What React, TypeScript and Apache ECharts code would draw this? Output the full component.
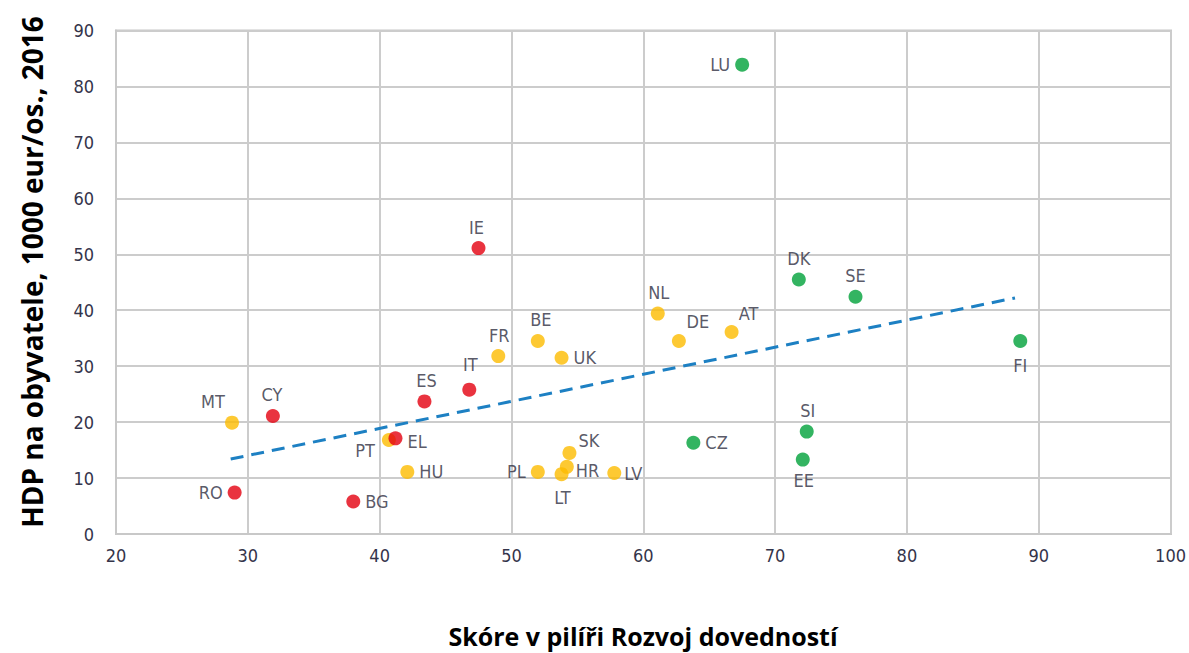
import React, { useEffect, useRef } from "react";
import * as echarts from "echarts";

const countries = ["LU", "IE", "DK", "SE", "NL", "AT", "DE", "FI", "BE", "FR", "UK", "IT", "ES", "CY", "MT", "RO", "BG", "PT", "EL", "SI", "CZ", "SK", "EE", "HR", "HU", "PL", "LT", "LV"];
const skillScore = [67.5, 47.5, 71.8, 76.1, 61.1, 66.7, 62.7, 88.6, 52.0, 49.0, 53.8, 46.8, 43.4, 31.9, 28.8, 29.0, 38.0, 40.7, 41.2, 72.4, 63.8, 54.4, 72.1, 54.2, 42.1, 52.0, 53.8, 57.8];
const gdpPerCapita = [83.9, 51.1, 45.5, 42.4, 39.4, 36.1, 34.5, 34.5, 34.5, 31.8, 31.5, 25.8, 23.7, 21.1, 19.9, 7.4, 5.8, 16.8, 17.1, 18.3, 16.3, 14.5, 13.3, 12.0, 11.1, 11.1, 10.7, 10.9];
// group: 0 = red, 1 = yellow, 2 = green
const group = [2, 0, 2, 2, 1, 1, 1, 2, 1, 1, 1, 0, 0, 0, 1, 0, 0, 1, 0, 2, 2, 1, 2, 1, 1, 1, 1, 1];
const trendX = [28.7, 88.2];
const trendY = [13.4, 42.2];
const xTicks = [20, 100, 10];
const yTicks = [0, 90, 10];

const groupColors = ["#e3000f", "#fdbb00", "#00a13a"];

const labelPlacement: Record<string, { position: string; offset: number[] }> = {
  LU: { position: "left", offset: [0, 0] },
  IE: { position: "top", offset: [-2, 0] },
  DK: { position: "top", offset: [0, 0] },
  SE: { position: "top", offset: [0, 0] },
  NL: { position: "top", offset: [1, 0] },
  AT: { position: "top", offset: [17, 2] },
  DE: { position: "top", offset: [19, 2] },
  FI: { position: "bottom", offset: [0, 4] },
  BE: { position: "top", offset: [3, 0] },
  FR: { position: "top", offset: [1, 0] },
  UK: { position: "right", offset: [0, 0] },
  IT: { position: "top", offset: [1, -4] },
  ES: { position: "top", offset: [2, 0] },
  CY: { position: "top", offset: [-1, 0] },
  MT: { position: "top", offset: [-19, 0] },
  RO: { position: "left", offset: [0, 0] },
  BG: { position: "right", offset: [0, 0] },
  PT: { position: "left", offset: [-2, 10] },
  EL: { position: "right", offset: [0, 3] },
  SI: { position: "top", offset: [1, 0] },
  CZ: { position: "right", offset: [0, 0] },
  SK: { position: "right", offset: [-3, -12] },
  EE: { position: "bottom", offset: [1, 0] },
  HR: { position: "right", offset: [-3, 4] },
  HU: { position: "right", offset: [0, 0] },
  PL: { position: "left", offset: [0, 0] },
  LT: { position: "bottom", offset: [1, 2] },
  LV: { position: "right", offset: [-2, 0] },
};

const narrowFont = "'Liberation Sans Narrow', 'Arial Narrow', 'DejaVu Sans Condensed', sans-serif";
const titleFont = "'Open Sans', 'Noto Sans', sans-serif";

export default function App() {
  const ref = useRef<HTMLDivElement>(null);
  useEffect(() => {
    document.body.style.margin = "0";
    const chart = echarts.init(ref.current!, null, { renderer: "svg" });
    const points = countries.map((c, i) => {
      const p = labelPlacement[c];
      return {
        name: c,
        value: [skillScore[i], gdpPerCapita[i]],
        itemStyle: { color: groupColors[group[i]] },
        label: { position: p.position, offset: p.offset },
      };
    });
    chart.setOption({
      animation: false,
      grid: { left: 116, right: 18, top: 30.5, bottom: 119, containLabel: false },
      xAxis: {
        type: "value",
        min: xTicks[0],
        max: xTicks[1],
        interval: xTicks[2],
        axisLine: { show: true, lineStyle: { color: "#c8c8c8", width: 2 } },
        axisTick: { show: false },
        splitLine: { show: true, lineStyle: { color: "#cccccc", width: 2 } },
        axisLabel: { color: "#34344a", fontSize: 18, fontFamily: narrowFont, margin: 12 },
      },
      yAxis: {
        type: "value",
        min: yTicks[0],
        max: yTicks[1],
        interval: yTicks[2],
        axisLine: { show: true, lineStyle: { color: "#c8c8c8", width: 2 } },
        axisTick: { show: false },
        splitLine: { show: true, lineStyle: { color: "#cccccc", width: 2 } },
        axisLabel: { color: "#34344a", fontSize: 18, fontFamily: narrowFont, margin: 22 },
      },
      graphic: [
        {
          type: "rect",
          shape: { x: 116, y: 30.5, width: 1055, height: 503.5 },
          style: { fill: "none", stroke: "#c8c8c8", lineWidth: 2 },
          silent: true,
        },
        {
          type: "text",
          x: 32,
          y: 272,
          rotation: Math.PI / 2,
          style: {
            text: "HDP na obyvatele, 1000 eur/os., 2016",
            fontSize: 28,
            fontWeight: "bold",
            fontFamily: titleFont,
            fill: "#000",
            align: "center",
            verticalAlign: "middle",
          },
        },
        {
          type: "text",
          x: 643,
          y: 636,
          style: {
            text: "Skóre v pilíři Rozvoj dovedností",
            fontSize: 25,
            fontWeight: "bold",
            fontFamily: titleFont,
            fill: "#000",
            align: "center",
            verticalAlign: "middle",
          },
        },
      ],
      series: [
        {
          type: "line",
          data: trendX.map((x, i) => [x, trendY[i]]),
          symbol: "none",
          lineStyle: { color: "#1d80c3", width: 3, type: [13, 8] },
          silent: true,
          z: 3,
        },
        {
          type: "scatter",
          data: points,
          symbolSize: 14,
          z: 4,
          label: {
            show: true,
            formatter: "{b}",
            fontSize: 18,
            fontFamily: narrowFont,
            color: "#2e2e40",
            distance: 5,
          },
        },
      ],
    });
    return () => chart.dispose();
  }, []);
  return <div ref={ref} style={{ width: 1189, height: 653 }} />;
}
